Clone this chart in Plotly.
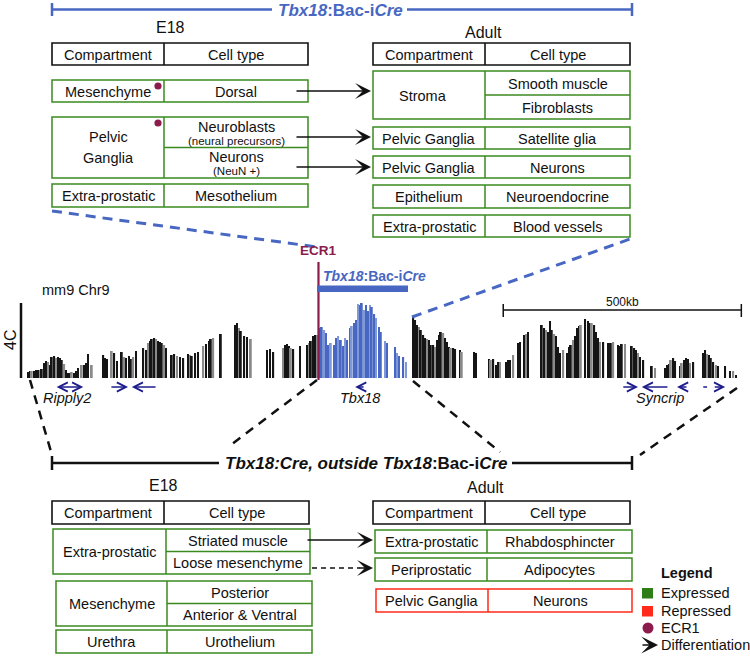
import plotly.graph_objects as go

FONT = "Liberation Sans, Arial, sans-serif"
GREEN = "#3a8a1f"
RED = "#ff2a1a"
BLACK = "#111111"
BLUE = "#4767c2"
LIGHTBLUE = "#7f98d8"
MAROON = "#8c1c4c"
NAVY = "#1c1c8c"
FS = 14.5

# ---------------- data ----------------
# 4C-seq signal along mm9 chr9 (position in kb from left edge of view, signal in a.u.; 4C scale bar = 75)
track_kb = [
    0, 4, 8, 13, 17, 21, 25, 29, 34, 38, 42, 46, 50, 55, 59, 63, 67, 71, 76, 80,
    84, 88, 92, 97, 101, 105, 113, 118, 122, 126, 134,
    158, 162, 166, 176, 181, 187, 197, 202, 206, 212, 216, 221, 227, 242, 248, 252,
    256, 260, 265, 269, 273, 277, 281, 286, 290,
    302, 307, 313, 319, 326, 336, 340, 344, 351, 357, 368, 374, 380, 384, 389, 405,
    435, 439, 443, 447, 454, 460, 468, 502, 508, 515, 536, 540, 544, 548, 552, 557,
    571, 586, 590, 594, 599, 603, 607,
    613, 617, 622, 626, 630, 636, 643, 647, 651, 657, 662, 666, 670, 676, 680, 685,
    689, 693, 697, 701, 706, 710, 714, 718, 722, 727, 731, 737, 741, 750, 754, 771,
    775, 779, 788, 794,
    809, 813, 817, 821, 825, 830, 834, 838, 842, 846, 851, 855, 859, 863, 867, 872,
    876, 880, 884, 888, 893, 897, 907, 911, 937, 941, 968, 972, 977, 983, 987, 991,
    1004, 1008, 1012, 1019, 1029, 1033, 1042, 1046, 1050,
    1079, 1084, 1088, 1092, 1096, 1100, 1105, 1109, 1113, 1117, 1124, 1132, 1136,
    1140, 1145, 1149, 1153, 1157, 1161, 1170, 1176, 1180, 1184, 1189, 1193, 1197,
    1201, 1208, 1218, 1224, 1229, 1239, 1243, 1247, 1254, 1268, 1273, 1277, 1281,
    1285, 1292, 1310, 1317,
    1338, 1342, 1346, 1350, 1355, 1359, 1369, 1373, 1378, 1382, 1386, 1390, 1397,
    1418, 1422, 1426, 1430, 1434, 1439, 1445, 1449, 1464, 1474, 1481, 1487,
]
track_signal = [
    6, 7, 7, 7, 8, 8, 8, 9, 15, 17, 16, 13, 21, 22, 20, 21, 20, 18, 14, 8,
    5, 5, 6, 5, 7, 10, 13, 13, 15, 24, 13,
    23, 20, 19, 27, 25, 17, 26, 21, 20, 22, 19, 21, 27, 30, 28, 35,
    37, 39, 40, 39, 37, 36, 35, 33, 30,
    23, 24, 22, 21, 20, 24, 23, 22, 25, 26, 32, 34, 37, 39, 40, 44,
    53, 55, 50, 47, 42, 41, 39, 28, 29, 26, 30, 33, 34, 32, 30, 29,
    32, 33, 35, 37, 42, 43, 43,
    50, 51, 48, 45, 33, 35, 33, 40, 42, 38, 32, 40, 38, 50, 52, 55,
    58, 74, 73, 75, 68, 73, 67, 73, 71, 64, 60, 51, 46, 37, 35, 31,
    25, 22, 21, 16,
    61, 58, 53, 51, 48, 43, 40, 39, 38, 33, 33, 31, 38, 43, 46, 45,
    40, 36, 31, 30, 30, 29, 28, 26, 26, 25, 19, 18, 19, 13, 16, 16,
    16, 18, 18, 23, 35, 36, 43, 44, 46,
    53, 50, 48, 46, 57, 48, 44, 42, 31, 25, 28, 25, 31,
    33, 38, 42, 50, 52, 53, 59, 57, 55, 55, 53, 46, 40,
    36, 36, 35, 35, 36, 33, 32, 34, 34, 32, 30, 28, 25,
    21, 18, 12, 10,
    10, 13, 14, 18, 20, 17, 12, 15, 18, 20, 19, 15, 16,
    25, 28, 24, 23, 20, 16, 13, 12, 12, 7, 7, 3,
]
SCALE_4C = 75
ECR1_KB = 610
BAC_KB = [607, 798]
SCALEBAR_KB = 500

# genes: (start_kb, end_kb, direction)  direction: +1 right, -1 left, 0 both, None plain
gene_segments = [
    (57, 116, 0), (172, 210, 1), (218, 271, -1),
    (687, 708, -1),
    (1247, 1281, 1), (1289, 1346, -1), (1363, 1386, -1), (1418, 1426, None), (1439, 1464, 1),
]
gene_labels = [("Ripply2", 81), ("Tbx18", 697), ("Syncrip", 1327)]

top_e18 = [
    [("Mesenchyme", True), ["Dorsal"]],
    [("Pelvic|Ganglia", True), ["Neuroblasts|(neural precursors)", "Neurons|(NeuN +)"]],
    [("Extra-prostatic", False), ["Mesothelium"]],
]
top_adult = [
    ["Stroma", ["Smooth muscle", "Fibroblasts"]],
    ["Pelvic Ganglia", ["Satellite glia"]],
    ["Pelvic Ganglia", ["Neurons"]],
    ["Epithelium", ["Neuroendocrine"]],
    ["Extra-prostatic", ["Blood vessels"]],
]
bot_e18 = [
    ["Extra-prostatic", ["Striated muscle", "Loose mesenchyme"]],
    ["Mesenchyme", ["Posterior", "Anterior & Ventral"]],
    ["Urethra", ["Urothelium"]],
]
bot_adult = [
    ["Extra-prostatic", ["Rhabdosphincter"], "expressed"],
    ["Periprostatic", ["Adipocytes"], "expressed"],
    ["Pelvic Ganglia", ["Neurons"], "repressed"],
]
legend_items = ["Expressed", "Repressed", "ECR1", "Differentiation"]

# ---------------- layout helpers (canvas in pixels) ----------------
shapes = []
ann = []


def line(x0, y0, x1, y1, color=BLACK, w=1.5, dash=None, xref="x", yref="y"):
    d = dict(type="line", x0=x0, y0=y0, x1=x1, y1=y1, xref=xref, yref=yref,
             line=dict(color=color, width=w))
    if dash:
        d["line"]["dash"] = dash
    shapes.append(d)


def rect(x0, y0, x1, y1, color, w=1.5, fill=None, xref="x", yref="y"):
    shapes.append(dict(type="rect", x0=x0, y0=y0, x1=x1, y1=y1, xref=xref, yref=yref,
                       line=dict(color=color, width=w),
                       fillcolor=fill if fill else "rgba(0,0,0,0)"))


def circle(cx, cy, r, color):
    shapes.append(dict(type="circle", x0=cx - r, y0=cy - r, x1=cx + r, y1=cy + r,
                       xref="x", yref="y", line=dict(color=color, width=0), fillcolor=color))


def text(x, y, s, size=FS, color=BLACK, xanchor="center", xref="x", yref="y", angle=0):
    ann.append(dict(x=x, y=y, text=s, xref=xref, yref=yref, showarrow=False,
                    xanchor=xanchor, yanchor="middle", textangle=angle,
                    font=dict(family=FONT, size=size, color=color)))


def arrow(x0, y0, x1, y1, color=BLACK, head=3, w=1.4, size=1.9):
    ann.append(dict(x=x1, y=y1, ax=x0, ay=y0, xref="x", yref="y", axref="x", ayref="y",
                    text="", showarrow=True, arrowhead=head, arrowsize=size,
                    arrowwidth=w, arrowcolor=color, standoff=0, startstandoff=0))


def header(x0, xd, x1, y0, y1):
    rect(x0, y0, x1, y1, BLACK, 1.6)
    line(xd, y0, xd, y1, BLACK, 1.6)
    text((x0 + xd) / 2, (y0 + y1) / 2 + 0.5, "Compartment")
    text((xd + x1) / 2, (y0 + y1) / 2 + 0.5, "Cell type")


def cell_text(cx, y0, y1, s):
    parts = s.split("|")
    if len(parts) == 1:
        text(cx, (y0 + y1) / 2 + 0.5, parts[0])
    else:
        h = y1 - y0
        if parts[1].startswith("("):
            text(cx, y0 + h * 0.32, parts[0], FS)
            text(cx, y0 + h * 0.78, parts[1], 11.5)
        else:
            text(cx, y0 + h * 0.33, parts[0], FS)
            text(cx, y0 + h * 0.67, parts[1], FS)


def block(x0, xd, x1, y0, y1, comp, cells, color=GREEN, comp_dx=0):
    rect(x0, y0, x1, y1, color, 1.5)
    line(xd, y0, xd, y1, color, 1.5)
    n = len(cells)
    step = (y1 - y0) / n
    for i in range(1, n):
        line(xd, y0 + i * step, x1, y0 + i * step, color, 1.5)
    cell_text((x0 + xd) / 2 + comp_dx, y0, y1, comp)
    for i, c in enumerate(cells):
        cell_text((xd + x1) / 2, y0 + i * step, y0 + (i + 1) * step, c)


# ---------------- top: Tbx18:Bac-iCre bracket ----------------
line(52, 9.5, 272, 9.5, BLUE, 2.5)
line(52, 3, 52, 16, BLUE, 2.5)
line(407, 9.5, 632, 9.5, BLUE, 2.5)
line(632, 3, 632, 16, BLUE, 2.5)
text(340, 10, "<b><i>Tbx18</i>:Bac-i<i>Cre</i></b>", 17, BLUE)

text(170, 27, "E18", 16)
text(483, 32, "Adult", 16)

header(52, 164, 308, 43, 65)
top_e18_rows = [(80, 102), (117, 178), (184, 207)]
for (row, (y0, y1)) in zip(top_e18, top_e18_rows):
    (comp, dot), cells = row
    block(52, 164, 308, y0, y1, comp, cells)
    if dot:
        circle(158, y0 + 6, 3.6, MAROON)

header(373, 485, 630, 43, 65)
top_adult_rows = [(71, 119), (127, 149), (156, 178), (185, 208), (215, 237)]
for (comp, cells), (y0, y1) in zip(top_adult, top_adult_rows):
    block(373, 485, 630, y0, y1, comp, cells, comp_dx=-6 if comp == "Stroma" else 0)

for y in (91, 137, 167):
    arrow(295, y, 371, y)

# ---------------- zoom guide lines ----------------
line(52, 211, 317, 247, BLUE, 3, "10px,7px")
line(412, 317, 630, 239, BLUE, 3, "10px,7px")
line(30, 380, 52, 455, BLACK, 2.5, "9px,7px")
line(317, 380, 228, 447, BLACK, 2.5, "9px,7px")
line(413, 381, 500, 452, BLACK, 2.5, "9px,7px")
line(737, 388, 640, 455, BLACK, 2.5, "9px,7px")

# ---------------- 4C track ----------------
colors = []
for i, (kb, s) in enumerate(zip(track_kb, track_signal)):
    if ECR1_KB < kb <= BAC_KB[1]:
        colors.append(LIGHTBLUE if i % 3 == 1 else BLUE)
    else:
        colors.append("#8a8a8a" if i % 4 == 2 else "#151515")

text(40, 290, "mm9 Chr9", FS, xanchor="left")
text(10, 340, "4C", 16, angle=-90)
line(21, 0, 21, SCALE_4C, BLACK, 2.5, yref="y2")

# ECR1
line(ECR1_KB, 262, ECR1_KB, 380, MAROON, 2.2, xref="x2")
text(ECR1_KB, 250, "<b>ECR1</b>", 13.5, MAROON, xref="x2")
# BAC
rect(BAC_KB[0], 86, BAC_KB[1], 92.5, BLUE, 0, fill=BLUE, xref="x2", yref="y2")
text(374, 276, "<b><i>Tbx18</i>:Bac-i<i>Cre</i></b>", 14, BLUE)

# scale bar
sb0 = 998
line(sb0, 310, sb0 + SCALEBAR_KB, 310, BLACK, 1.5, xref="x2")
line(sb0, 304, sb0, 317, BLACK, 1.5, xref="x2")
line(sb0 + SCALEBAR_KB, 304, sb0 + SCALEBAR_KB, 317, BLACK, 1.5, xref="x2")
text(sb0 + SCALEBAR_KB / 2, 302, "500kb", 12, xref="x2")

# genes
for (a, b, d) in gene_segments:
    y = 387
    if d == 1:
        ann.append(dict(x=b, y=y, ax=a, ay=y, xref="x2", yref="y", axref="x2", ayref="y",
                        text="", showarrow=True, arrowhead=5, arrowsize=1.2, arrowwidth=1.5,
                        arrowcolor=NAVY, standoff=0))
    elif d == -1:
        ann.append(dict(x=a, y=y, ax=b, ay=y, xref="x2", yref="y", axref="x2", ayref="y",
                        text="", showarrow=True, arrowhead=5, arrowsize=1.2, arrowwidth=1.5,
                        arrowcolor=NAVY, standoff=0))
    elif d == 0:
        ann.append(dict(x=b, y=y, ax=a, ay=y, xref="x2", yref="y", axref="x2", ayref="y",
                        text="", showarrow=True, arrowhead=5, startarrowhead=5,
                        arrowside="end+start", arrowsize=1.2, startarrowsize=1.2,
                        arrowwidth=1.5, arrowcolor=NAVY, standoff=0))
    else:
        line(a, y, b, y, NAVY, 1.5, xref="x2")
for name, kb in gene_labels:
    text(kb, 398, "<i>%s</i>" % name, FS, xref="x2")

# ---------------- bottom bracket ----------------
line(52, 463, 219, 463, BLACK, 2.5)
line(52, 456, 52, 470, BLACK, 2.5)
line(512, 463, 632, 463, BLACK, 2.5)
line(632, 456, 632, 470, BLACK, 2.5)
text(366, 463, "<b><i>Tbx18:Cre, outside Tbx18</i>:Bac-i<i>Cre</i></b>", 17)

text(163, 485, "E18", 16)
text(485, 487, "Adult", 16)

header(52, 164, 309, 501, 524)
bot_e18_geo = [(53, 166, 310, 529, 574), (56, 167, 312, 581, 626), (56, 167, 312, 630, 653)]
for (comp, cells), (x0, xd, x1, y0, y1) in zip(bot_e18, bot_e18_geo):
    block(x0, xd, x1, y0, y1, comp, cells)

header(373, 485, 630, 501, 524)
bot_adult_geo = [(375, 487, 632, 530, 553), (375, 487, 632, 558, 581), (376, 488, 632, 589, 612)]
for (comp, cells, state), (x0, xd, x1, y0, y1) in zip(bot_adult, bot_adult_geo):
    block(x0, xd, x1, y0, y1, comp, cells, GREEN if state == "expressed" else RED)

arrow(306, 540, 373, 540)
line(312, 568, 360, 568, BLACK, 1.3, "5px,4px")
arrow(358, 568, 373, 568)

# ---------------- legend ----------------
text(659, 573, "<b>Legend</b>", FS, xanchor="left")
rect(642, 588, 653, 598.5, "#2e7d17", 0, fill="#2e7d17")
rect(642, 606, 653, 616.5, RED, 0, fill=RED)
circle(648, 628, 5.5, MAROON)
arrow(641, 645, 658, 645, size=2.0)
for lab, y in zip(legend_items, (593, 611, 628, 645)):
    text(659, y, lab, FS, xanchor="left")

# ---------------- figure ----------------
fig = go.Figure()
fig.add_trace(go.Scatter(x=[0, 750], y=[0, 656], mode="markers",
                         marker=dict(opacity=0), hoverinfo="skip", showlegend=False))
fig.add_trace(go.Bar(x=track_kb, y=track_signal, width=3.8, marker=dict(color=colors, line=dict(width=0)),
                     xaxis="x2", yaxis="y2", showlegend=False, hoverinfo="skip"))

fig.update_layout(
    width=750, height=656,
    margin=dict(l=0, r=0, t=0, b=0),
    paper_bgcolor="white", plot_bgcolor="white",
    xaxis=dict(range=[0, 750], visible=False, domain=[0, 1], fixedrange=True),
    yaxis=dict(range=[656, 0], visible=False, domain=[0, 1], fixedrange=True),
    xaxis2=dict(range=[-28 * 2.1, (750 - 28) * 2.1], visible=False, domain=[0, 1],
                anchor="y2", overlaying="x"),
    yaxis2=dict(range=[378 - 656, 378], visible=False, domain=[0, 1],
                anchor="x2", overlaying="y"),
    shapes=shapes, annotations=ann,
    font=dict(family=FONT),
    showlegend=False,
)

fig.write_html(
    "out.html",
    config={"displayModeBar": False},
    post_script="document.body.style.margin='0';document.body.style.padding='0';"
                "document.body.style.overflow='hidden';",
)
